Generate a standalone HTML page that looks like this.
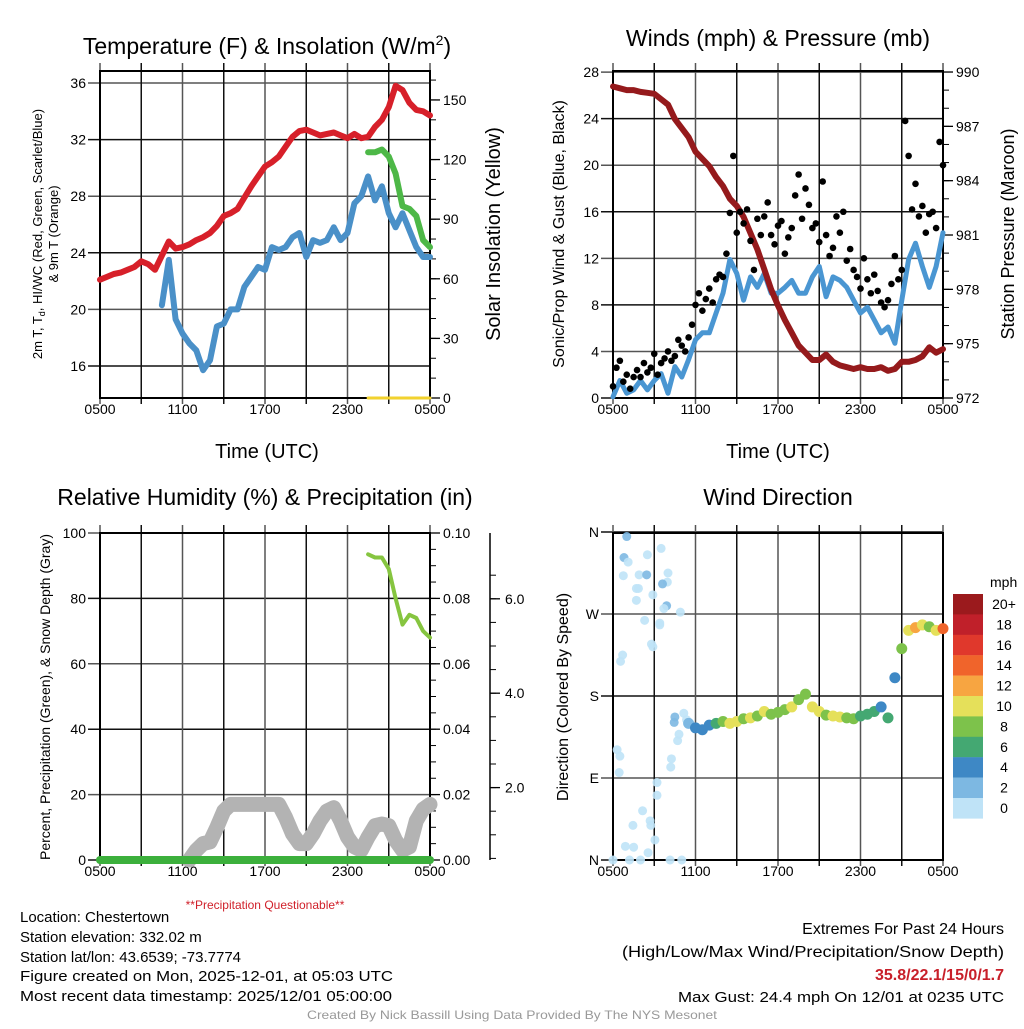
<!DOCTYPE html>
<html><head><meta charset="utf-8"><style>
html,body{margin:0;padding:0;background:#fff;}
svg text{font-family:"Liberation Sans",sans-serif;fill:#000;}
</style></head><body>
<svg id="fig" width="1024" height="1024" viewBox="0 0 1024 1024" xmlns="http://www.w3.org/2000/svg">
<rect x="0" y="0" width="1024" height="1024" fill="#fff"/>
<g id="p1"></g>
<g id="p2"></g>
<g id="p3"></g>
<g id="p4"></g>

<text x="267" y="54" font-size="23" text-anchor="middle">Temperature (F) &amp; Insolation (W/m<tspan dy="-9" font-size="14">2</tspan><tspan dy="9">)</tspan></text>
<text x="778" y="46" font-size="23" text-anchor="middle">Winds (mph) &amp; Pressure (mb)</text>
<text x="265" y="505" font-size="23" text-anchor="middle">Relative Humidity (%) &amp; Precipitation (in)</text>
<text x="778" y="505" font-size="23" text-anchor="middle">Wind Direction</text>

<text transform="translate(42,234) rotate(-90)" font-size="13" text-anchor="middle">2m T, T<tspan font-size="9" dy="3">d</tspan><tspan dy="-3">, HI/WC (Red, Green, Scarlet/Blue)</tspan></text>
<text transform="translate(58,234) rotate(-90)" font-size="13" text-anchor="middle">&amp; 9m T (Orange)</text>
<text transform="translate(500,234) rotate(-90)" font-size="20" text-anchor="middle">Solar Insolation (Yellow)</text>
<text x="267" y="458" font-size="20" text-anchor="middle">Time (UTC)</text>

<text transform="translate(564,234) rotate(-90)" font-size="16" text-anchor="middle">Sonic/Prop Wind &amp; Gust (Blue, Black)</text>
<text transform="translate(1014,234) rotate(-90)" font-size="18" text-anchor="middle">Station Pressure (Maroon)</text>
<text x="778" y="458" font-size="20" text-anchor="middle">Time (UTC)</text>

<text transform="translate(50,697) rotate(-90)" font-size="14" text-anchor="middle">Percent, Precipitation (Green), &amp; Snow Depth (Gray)</text>
<text x="265" y="909" font-size="12" fill="#d0202a" style="fill:#d0202a" text-anchor="middle">**Precipitation Questionable**</text>

<text transform="translate(568,697) rotate(-90)" font-size="16" text-anchor="middle">Direction (Colored By Speed)</text>
<text x="990" y="587" font-size="14">mph</text>
<g id="cbar"></g>

<g font-size="15">
<text x="20" y="922">Location: Chestertown</text>
<text x="20" y="942">Station elevation: 332.02 m</text>
<text x="20" y="962">Station lat/lon: 43.6539; -73.7774</text>
<text x="20" y="981" textLength="373" lengthAdjust="spacingAndGlyphs">Figure created on Mon, 2025-12-01, at 05:03 UTC</text>
<text x="20" y="1001" textLength="372" lengthAdjust="spacingAndGlyphs">Most recent data timestamp: 2025/12/01 05:00:00</text>
</g>
<g>
<text x="1004" y="934" font-size="16" text-anchor="end">Extremes For Past 24 Hours</text>
<text x="1004" y="957" font-size="16" text-anchor="end" textLength="382" lengthAdjust="spacingAndGlyphs">(High/Low/Max Wind/Precipitation/Snow Depth)</text>
<text x="1004" y="980" font-size="16" font-weight="bold" text-anchor="end" style="fill:#c8202a">35.8/22.1/15/0/1.7</text>
<text x="1004" y="1002" font-size="15" text-anchor="end" textLength="326" lengthAdjust="spacingAndGlyphs">Max Gust: 24.4 mph On 12/01 at 0235 UTC</text>
</g>
<text x="512" y="1019" font-size="12" text-anchor="middle" style="fill:#999" textLength="410" lengthAdjust="spacingAndGlyphs">Created By Nick Bassill Using Data Provided By The NYS Mesonet</text>
</svg>
<script>
// ---- data (half-hourly from 0500 UTC, 49 points) ----
const timeLabels = ["0500","1100","1700","2300","0500"];
const tempF = [22.1,22.3,22.5,22.6,22.8,23.0,23.4,23.2,22.8,23.8,24.8,24.3,24.4,24.6,24.9,25.1,25.4,25.9,26.6,26.8,27.1,27.9,28.7,29.4,30.1,30.4,30.8,31.5,32.2,32.6,32.7,32.5,32.3,32.4,32.5,32.3,32.1,32.4,32.1,32.2,32.9,33.4,34.3,35.8,35.5,34.6,34.1,34.0,33.7];
const dewF = [null,null,null,null,null,null,null,null,null,20.3,23.5,19.3,18.3,17.6,17.1,15.7,16.4,18.8,19.0,20.0,20.0,21.6,22.3,23.0,22.8,24.4,24.2,24.4,25.1,25.4,23.7,24.9,24.7,24.9,25.8,24.9,25.4,27.5,28.0,29.4,27.7,28.7,26.8,25.8,26.8,25.6,24.4,23.7,23.7];
const hiwcF = [null,null,null,null,null,null,null,null,null,null,null,null,null,null,null,null,null,null,null,null,null,null,null,null,null,null,null,null,null,null,null,null,null,null,null,null,null,null,null,31.1,31.1,31.3,30.8,29.6,27.3,27.1,26.6,24.9,24.4];
const insolation = [null,null,null,null,null,null,null,null,null,null,null,null,null,null,null,null,null,null,null,null,null,null,null,null,null,null,null,null,null,null,null,null,null,null,null,null,null,null,null,0,0,0,0,0,0,0,0,0,0];
const tempTicks = [16,20,24,28,32,36];
const insolTicks = [0,30,60,90,120,150];

const windMph = [0.1,1.5,0.4,0.7,1.5,0.7,1.5,2.1,0.4,2.7,1.8,3.3,5.0,5.6,5.6,7.3,9.0,11.9,10.7,8.4,10.4,9.5,10.7,9.0,9.0,9.5,10.1,9.0,9.0,10.4,11.3,8.7,10.4,10.1,9.5,8.4,7.3,7.8,6.7,5.6,6.1,4.7,8.4,11.9,13.3,11.3,9.5,11.3,14.2];
const gustMph = [1.0,2.6,3.2,1.4, 2.0,0.8,1.8,2.4, 1.8,3.0,2.2,2.6, 3.8,2.0,3.0,3.4, 4.0,3.2,3.6,5.0, 4.5,4.0,5.2,6.3, 8.0,9.0,7.5,8.5, 9.4,8.2,10.2,10.6, 10.4,12.4,15.9,20.8, 14.2,16.0,15.0,16.2, 13.5,11.0,15.4,14.0, 15.6,16.8,14.0,13.2, 14.8,15.2,12.4,13.8, 14.6,17.4,19.2,15.4, 18.0,16.6,14.6,15.0, 13.4,18.6,14.0,12.2, 12.9,15.6,14.2,16.0, 11.8,12.8,11.0,10.4, 9.4,12.0,10.2,9.0, 10.6,9.2,8.2,7.8, 8.4,9.8,12.2,10.2, 11.0,23.8,20.8,16.2, 18.4,15.6,16.5,14.2, 15.8,16.0,14.6,22.0, 20.0];
const pressureMb = [989.2,989.1,989.0,989.0,988.9,988.85,988.8,988.5,988.2,987.4,986.9,986.4,985.6,985.2,984.8,984.2,983.7,983.0,982.6,982.0,981.1,980.2,979.1,978.0,977.1,976.3,975.6,974.9,974.5,974.1,974.1,974.4,974.0,973.8,973.7,973.6,973.7,973.6,973.6,973.7,973.5,973.6,974.0,974.0,974.1,974.3,974.8,974.5,974.7];
const windTicks = [0,4,8,12,16,20,24,28];
const presTicks = [972,975,978,981,984,987,990];

const rhPct = [null,null,null,null,null,null,null,null,null,null,null,null,null,null,null,null,null,null,null,null,null,null,null,null,null,null,null,null,null,null,null,null,null,null,null,null,null,null,null,93.5,92.5,92.5,89,80,72,75,74,70,68];
const precipIn = [0,0,0,0,0,0,0,0,0,0,0,0,0,0,0,0,0,0,0,0,0,0,0,0,0,0,0,0,0,0,0,0,0,0,0,0,0,0,0,0,0,0,0,0,0,0,0,0,0];
const snowDepth = [null,null,null,null,null,null,null,null,null,null,null,null,null,0,3,5,5.5,10,15,17,17,17,17,17,17,17,17,13,8,5,5,8,12,15,16,12,7,4,3,7,10.5,11,10.5,6,3,4,12,15.5,17];
const rhTicks = [0,20,40,60,80,100];
const precipTickLabels = ["0.00","0.02","0.04","0.06","0.08","0.10"];
const snowTickLabels = ["2.0","4.0","6.0"];

const dirDeg = [null,null,null,null,null,null,null,null,null,null,null,150,145,143,148,150,152,150,152,155,156,158,163,160,162,165,168,176,182,168,163,159,158,157,156,155,158,160,163,168,156,200,232,252,255,258,256,252,254];
const earlyHours = [1.0,0.8,1.1,0.75,1.9,2.45,1.7,1.85,1.7,2.9,2.5,3.5,4.0,3.95,3.6,3.9,3.7,4.9,2.3,3.4,3.4,2.8,2.9,0.7,0.55,0.3,0.5,0.45,3.2,3.2,2.15,1.45,2.7,2.75,3.05,0.9,1.5,2.55,0,1.2,2.0,4.15,5.0,4.25,4.2,4.7,4.5,5.15,4.45,4.8,5.35];
const earlyDirs = [355,332,327,312,313,313,298,298,285,291,335,342,315,305,303,279,276,272,263,260,258,237,234,225,218,121,114,96,85,71,54,38,43,38,22,15,14,8,0,0,0,0,0,111,102,131,157,161,151,138,154];
const earlySpeeds = [3,3,1,1,1,3,1,1,1,1,1,1,1,1,3,3,1,1,1,1,1,1,1,1,1,1,1,1,1,1,1,1,1,1,1,1,1,1,1,1,1,1,1,1,1,1,3,1,3,1,1];
const speedLabels = ["20+","18","16","14","12","10","8","6","4","2","0"];
const speedColors = ["#bfe3f7","#7db8e2","#3e88c5","#44a872","#7dc24b","#e5e05a","#f7a541","#f0642b","#e0382c","#c0202a","#9b1a1d"];
const dirLabels = ["N","E","S","W","N"];

// ---- helpers ----
const NS="http://www.w3.org/2000/svg";
function mk(tag, attrs, parent){const e=document.createElementNS(NS,tag);for(const k in attrs)e.setAttribute(k,attrs[k]);parent.appendChild(e);return e;}
function xScale(x0){return h=>x0+h*330/24;}
function pathFrom(vals, xs, ys, step){
  let d="", pen=false;
  vals.forEach((v,i)=>{ if(v===null){pen=false;return;} const x=xs(i*step), y=ys(v); d+=(pen?"L":"M")+x.toFixed(1)+" "+y.toFixed(1); pen=true;});
  return d;
}
function frame(g,x0,y0,x1,y1,yPos,leftLabels,name){
  yPos.forEach((y,i)=>{
    const l=mk("line",{x1:x0-12,y1:y,x2:x1,y2:y,stroke:i%2?"#555":"#111","stroke-width":1.5},g);
    
    
    const t=mk("text",{x:x0-14,y:y+5,"font-size":14,"text-anchor":"end"},g);t.textContent=leftLabels[i];
    
    
  });
  for(let k=0;k<=8;k++){
    const x=x0+k*(x1-x0)/8;
    const l=mk("line",{x1:x,y1:y0-8,x2:x,y2:y1+6,stroke:k%2?"#111":"#555","stroke-width":1.5},g);
    
    
    if(k%2===0){
      const t=mk("text",{x:x,y:y1+16,"font-size":14,"text-anchor":"middle"},g);t.textContent=timeLabels[k/2];
      
      
    }
  }
  const r=mk("rect",{x:x0,y:y0,width:x1-x0,height:y1-y0,fill:"none",stroke:"#000","stroke-width":2},g);
  
  
}
function rightAxis(g,x,yPos,labels,y0,y1,minorStep){
  yPos.forEach((y,i)=>{
    const l=mk("line",{x1:x,y1:y,x2:x+10,y2:y,stroke:"#000","stroke-width":1.3},g);
    
    
    const t=mk("text",{x:x+13,y:y+5,"font-size":14},g);t.textContent=labels[i];
    
    
  });
  for(let y=yPos[0];y>=y0-0.5;y-=minorStep){mk("line",{x1:x,y1:y,x2:x+6,y2:y,stroke:"#000","stroke-width":1},g);}
}
function series(g,d,color,w,name,op){
  const p=mk("path",{d:d,fill:"none",stroke:color,"stroke-width":w,"stroke-linejoin":"round","stroke-linecap":"round","stroke-opacity":op||1},g);
  
  
  return p;
}

// ---- Panel 1 ----
(function(){
  const g=document.getElementById("p1");
  const x=xScale(100), yT=v=>83+(36-v)*14.15, yI=v=>398-v*1.987;
  frame(g,100,71,430,398,tempTicks.map(yT),tempTicks,"temperature");
  rightAxis(g,430,insolTicks.map(yI),insolTicks,71,398,yI(0)-yI(10));
  series(g,pathFrom(insolation,x,yI,0.5),"#f2d22e",3,"insolation-line");
  series(g,pathFrom(tempF,x,yT,0.5),"#d7202a",6,"temperature-line");
  series(g,pathFrom(hiwcF,x,yT,0.5),"#4db847",6,"heat-index-windchill-line");
  series(g,pathFrom(dewF,x,yT,0.5),"#4a90c8",6,"dewpoint-line");
})();

// ---- Panel 2 ----
(function(){
  const g=document.getElementById("p2");
  const x=xScale(613), yW=v=>398-v*11.64, yP=v=>398-(v-972)*18.11;
  frame(g,613,71,943,398,windTicks.map(yW),windTicks,"wind");
  rightAxis(g,943,presTicks.map(yP),presTicks,71,398,yP(972)-yP(973));
  series(g,pathFrom(windMph,x,yW,0.5),"#4a96d2",5,"wind-speed-line");
  series(g,pathFrom(pressureMb,x,yP,0.5),"#951a1c",6,"pressure-line");
  gustMph.forEach((v,i)=>{
    const c=mk("circle",{cx:x(i*0.25),cy:yW(v),r:3.3,fill:"#000"},g);
    
    
  });
})();

// ---- Panel 3 ----
(function(){
  const g=document.getElementById("p3");
  const x=xScale(100), yR=v=>860-v*3.27, yPr=v=>860-v*3270;
  frame(g,100,533,430,860,rhTicks.map(yR),rhTicks,"humidity");
  rightAxis(g,430,rhTicks.map(yR),precipTickLabels,533,860,yR(0)-yR(5));
  const ax=mk("line",{x1:490,y1:533,x2:490,y2:860,stroke:"#000","stroke-width":1.5},g);
  
  
  const ySnow=v=>882-v*47.2;
  snowTickLabels.forEach(s=>{
    const y=ySnow(parseFloat(s));
    mk("line",{x1:490,y1:y,x2:500,y2:y,stroke:"#000","stroke-width":1.3},g);
    const t=mk("text",{x:505,y:y+5,"font-size":14},g);t.textContent=s;
    
    
  });
  for(let v=0.5;v<7;v+=0.5){const y=ySnow(v);if(y>=533&&y<=860)mk("line",{x1:490,y1:y,x2:496,y2:y,stroke:"#000","stroke-width":1},g);}
  series(g,pathFrom(snowDepth,x,yR,0.5),"#b3b3b3",15,"snow-depth-line");
  series(g,pathFrom(precipIn,x,yPr,0.5),"#3cb03c",8,"precipitation-line");
  series(g,pathFrom(rhPct,x,yR,0.5),"#86c540",4,"relative-humidity-line");
})();

// ---- Panel 4 ----
(function(){
  const g=document.getElementById("p4");
  const x=xScale(613), yD=d=>860-d*82/90;
  frame(g,613,533,943,860,[0,90,180,270,360].map(yD),dirLabels,"direction");
  const col=s=>speedColors[Math.min(10,Math.floor(s/2))];
  earlyHours.forEach((h,i)=>{
    const c=mk("circle",{cx:x(h),cy:yD(earlyDirs[i]),r:4.5,fill:col(earlySpeeds[i]),"fill-opacity":0.9},g);
    
    
  });
  dirDeg.forEach((d,i)=>{
    if(d===null)return;
    const c=mk("circle",{cx:x(i*0.5),cy:yD(d),r:5.5,fill:col(windMph[i])},g);
    
    
  });
  const cb=document.getElementById("cbar");
  speedLabels.forEach((s,i)=>{
    const y=594+i*20.4;
    const r=mk("rect",{x:953,y:y,width:30,height:20.6,fill:speedColors[10-i]},cb);
    
    
    const t=mk("text",{x:1004,y:y+15,"font-size":14,"text-anchor":"middle"},cb);t.textContent=s;
    
    
  });
})();
</script>
</body></html>
